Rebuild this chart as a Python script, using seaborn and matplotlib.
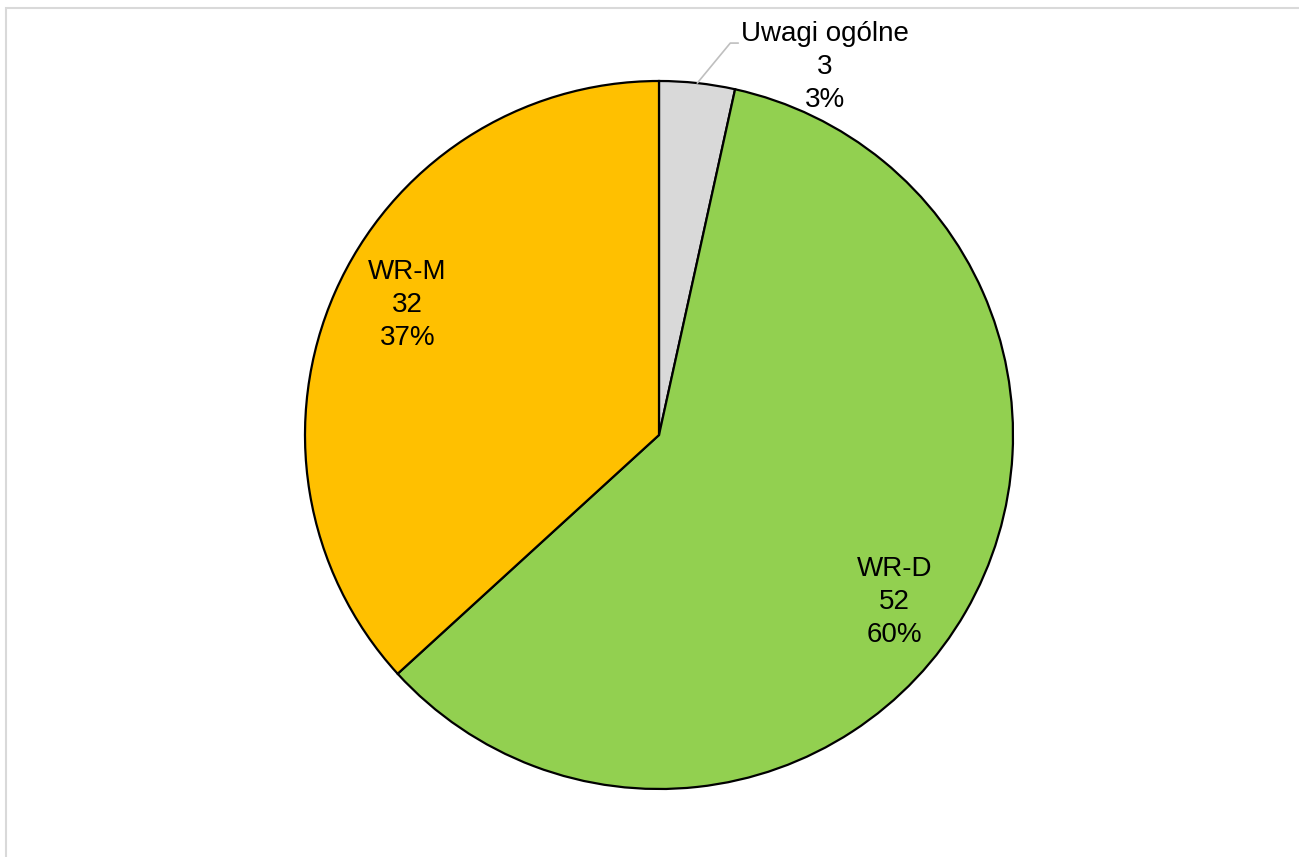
import numpy as np
import seaborn as sns
import matplotlib.pyplot as plt
from matplotlib.patches import Rectangle

# data
categories = ['Uwagi ogólne', 'WR-D', 'WR-M']
values = [3, 52, 32]
percents = ['3%', '60%', '37%']
colors = ['#D9D9D9', '#92D050', '#FFC000']

sns.set_style('white')
plt.rcParams['font.family'] = ['Liberation Sans', 'DejaVu Sans']

fig = plt.figure(figsize=(12.99, 8.57), dpi=100)
ax = fig.add_axes([0, 0, 1, 1])

cx, cy, r = 659, 422, 354
wedges, _ = ax.pie(values, colors=colors, startangle=90, counterclock=False,
                   center=(cx, cy), radius=r, frame=True,
                   wedgeprops=dict(edgecolor='black', linewidth=1.6))
ax.set_xlim(0, 1299)
ax.set_ylim(0, 857)
ax.set_aspect('equal')
ax.axis('off')

# label placement (Excel "best fit" style): angle nudge in degrees, distance as fraction of radius
label_layout = {'WR-D': (-5.3, 0.815), 'WR-M': (-3.5, 0.80)}

for w, cat, val, pct in zip(wedges, categories, values, percents):
    mid = np.deg2rad((w.theta1 + w.theta2) / 2)
    txt = f'{cat}\n{val}\n{pct}'
    if cat == 'Uwagi ogólne':
        ex, ey = cx + r * np.cos(mid), cy + r * np.sin(mid)
        ax.plot([ex, ex + 33, ex + 41], [ey, ey + 40, ey + 40], color='#BFBFBF', lw=1.2)
        ax.text(825, 790, txt, ha='center', va='center', fontsize=20,
                linespacing=1.34, color='black')
    else:
        nudge, frac = label_layout[cat]
        a = mid + np.deg2rad(nudge)
        ax.text(cx + frac * r * np.cos(a), cy + frac * r * np.sin(a), txt,
                ha='center', va='center', fontsize=20, linespacing=1.34, color='black')

# chart area border
fig.patches.append(Rectangle((6 / 1299, -0.1), 1.2, (857 - 8) / 857 + 0.1,
                             transform=fig.transFigure, fill=False,
                             edgecolor='#D9D9D9', lw=1.5))

fig.savefig('out.png', dpi=100)
